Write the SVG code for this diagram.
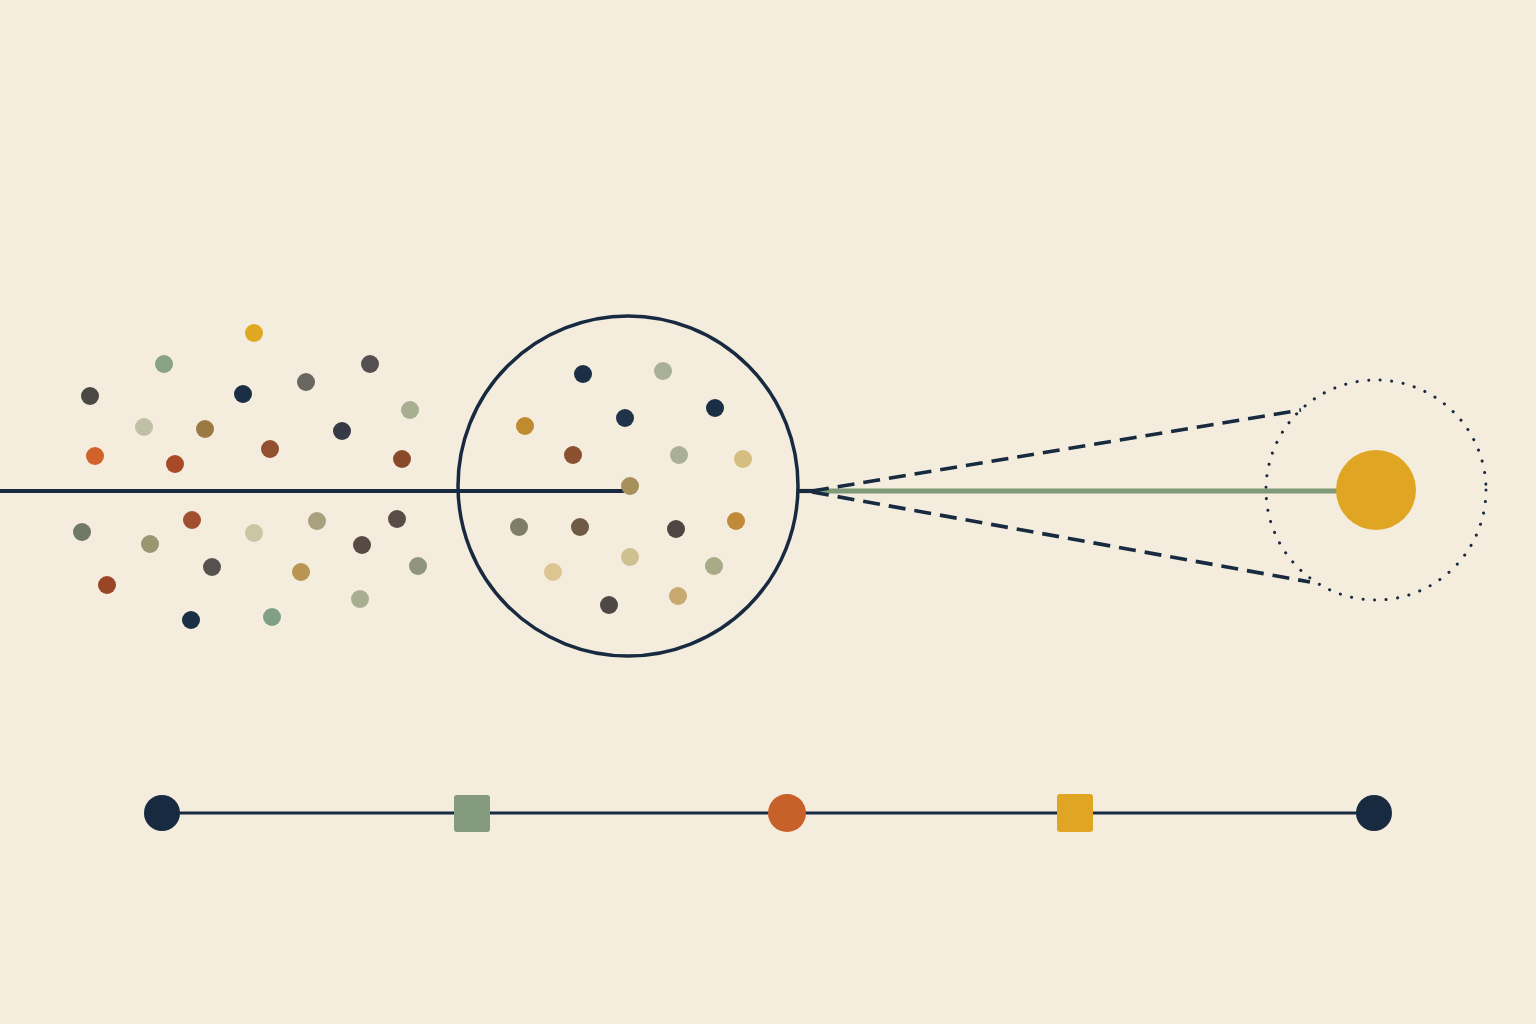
<svg xmlns="http://www.w3.org/2000/svg" width="1536" height="1024" viewBox="0 0 1536 1024">
  <style>
    .navy{stroke:#172a40;fill:none}
  </style>
  <rect width="1536" height="1024" fill="#f4ecdc"/>

  <g id="connectors">
    <line x1="0" y1="491" x2="628" y2="491" class="navy" stroke-width="3.8"/>
    <line x1="797" y1="491" x2="818" y2="491" class="navy" stroke-width="4.2"/>
    <line x1="818" y1="491" x2="1340" y2="491" stroke="#7f9a78" stroke-width="5"/>
    <line x1="812" y1="491" x2="1301" y2="410" class="navy" stroke-width="3.6" stroke-dasharray="17 9"/>
    <line x1="812" y1="492" x2="1310" y2="582" class="navy" stroke-width="3.6" stroke-dasharray="17 9"/>
    <line x1="162" y1="813" x2="1374" y2="813" class="navy" stroke-width="3"/>
  </g>

  <g id="scatter">
    <circle cx="254" cy="333" r="9" fill="#e0a820"/>
    <circle cx="164" cy="364" r="9" fill="#8aa385"/>
    <circle cx="90" cy="396" r="9" fill="#4a4745"/>
    <circle cx="243" cy="394" r="9" fill="#1a2e45"/>
    <circle cx="306" cy="382" r="9" fill="#6a6660"/>
    <circle cx="370" cy="364" r="9" fill="#555050"/>
    <circle cx="410" cy="410" r="9" fill="#a8ae90"/>
    <circle cx="144" cy="427" r="9" fill="#bfc0a5"/>
    <circle cx="205" cy="429" r="9" fill="#9a7a40"/>
    <circle cx="342" cy="431" r="9" fill="#353a45"/>
    <circle cx="95" cy="456" r="9" fill="#d0622a"/>
    <circle cx="175" cy="464" r="9" fill="#a84a25"/>
    <circle cx="270" cy="449" r="9" fill="#92502e"/>
    <circle cx="402" cy="459" r="9" fill="#8a4a2a"/>
    <circle cx="82" cy="532" r="9" fill="#707868"/>
    <circle cx="150" cy="544" r="9" fill="#9a9770"/>
    <circle cx="192" cy="520" r="9" fill="#a04e2e"/>
    <circle cx="254" cy="533" r="9" fill="#c8c6a5"/>
    <circle cx="317" cy="521" r="9" fill="#a8a07e"/>
    <circle cx="397" cy="519" r="9" fill="#5a4d48"/>
    <circle cx="362" cy="545" r="9" fill="#564a45"/>
    <circle cx="212" cy="567" r="9" fill="#555250"/>
    <circle cx="301" cy="572" r="9" fill="#b89550"/>
    <circle cx="418" cy="566" r="9" fill="#909580"/>
    <circle cx="107" cy="585" r="9" fill="#9a4525"/>
    <circle cx="191" cy="620" r="9" fill="#1a2e45"/>
    <circle cx="272" cy="617" r="9" fill="#80a085"/>
    <circle cx="360" cy="599" r="9" fill="#a8ae90"/>
  </g>

  <g id="lens">
    <circle cx="628" cy="486" r="170" class="navy" stroke-width="3.5"/>
    <circle cx="583" cy="374" r="9" fill="#1a2e45"/>
    <circle cx="663" cy="371" r="9" fill="#a8b098"/>
    <circle cx="715" cy="408" r="9" fill="#1a2e45"/>
    <circle cx="625" cy="418" r="9" fill="#1f3448"/>
    <circle cx="525" cy="426" r="9" fill="#c08a30"/>
    <circle cx="573" cy="455" r="9" fill="#8a5030"/>
    <circle cx="679" cy="455" r="9" fill="#aab095"/>
    <circle cx="743" cy="459" r="9" fill="#d6be80"/>
    <circle cx="630" cy="486" r="9" fill="#a8905a"/>
    <circle cx="519" cy="527" r="9" fill="#7d7d68"/>
    <circle cx="580" cy="527" r="9" fill="#6e5a45"/>
    <circle cx="676" cy="529" r="9" fill="#4e4642"/>
    <circle cx="736" cy="521" r="9" fill="#c08a38"/>
    <circle cx="630" cy="557" r="9" fill="#cfc090"/>
    <circle cx="553" cy="572" r="9" fill="#dcc590"/>
    <circle cx="714" cy="566" r="9" fill="#a8ab88"/>
    <circle cx="678" cy="596" r="9" fill="#c8aa70"/>
    <circle cx="609" cy="605" r="9" fill="#4e4845"/>
  </g>

  <g id="target">
    <circle cx="1376" cy="490" r="110" fill="none" stroke="#172a40" stroke-width="3" stroke-dasharray="0.1 11.5" stroke-linecap="round"/>
    <circle cx="1376" cy="490" r="40" fill="#e0a522"/>
  </g>

  <g id="timeline-start"><circle cx="162" cy="813" r="18" fill="#172a40"/></g>
  <g id="timeline-square-green"><rect x="454" y="795" width="36" height="37" rx="3" fill="#849b7e"/></g>
  <g id="timeline-orange"><circle cx="787" cy="813" r="19" fill="#c8602a"/></g>
  <g id="timeline-square-yellow"><rect x="1057" y="794" width="36" height="38" rx="3" fill="#e0a525"/></g>
  <g id="timeline-end"><circle cx="1374" cy="813" r="18" fill="#172a40"/></g>
</svg>
